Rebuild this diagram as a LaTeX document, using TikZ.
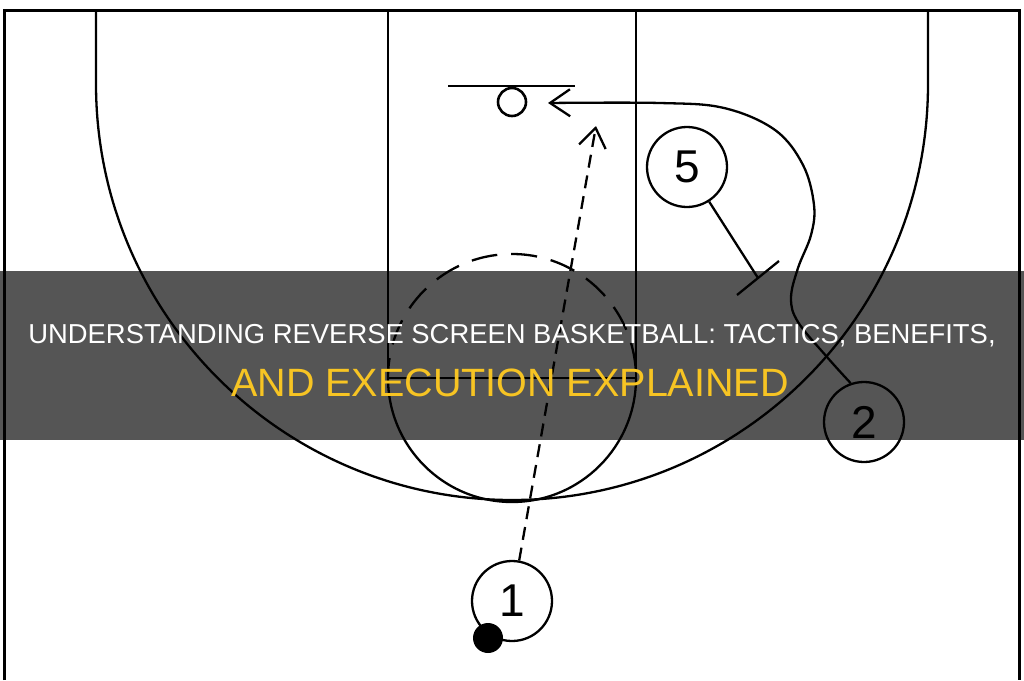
\documentclass[tikz,border=0pt]{standalone}
\usepackage{fontspec}
\setmainfont{Liberation Sans}
\usetikzlibrary{arrows.meta,calc}
\definecolor{titleyellow}{RGB}{247,196,35}
\tikzset{
  courtline/.style={line width=2.3pt, black},
  borderline/.style={line width=3pt, black},
  player/.style={circle, draw, line width=2.3pt, minimum size=80pt, inner sep=0pt,
    font=\fontsize{46}{46}\selectfont},
  cutarrow/.style={line width=2.3pt, -{Straight Barb[length=20pt, width=27pt, line width=2.3pt]}},
  passarrow/.style={line width=2.3pt, dash pattern=on 13pt off 8pt,
    -{Straight Barb[length=19pt, width=27pt, line width=2.3pt]}},
}

\begin{document}
\begin{tikzpicture}[x=1pt, y=-1pt]
  \useasboundingbox (0,0) rectangle (1024,680);
  \fill[white] (0,0) rectangle (1024,680);

  % court
  \draw[borderline] (4.5,680) -- (4.5,10) -- (1019,10) -- (1019,680);
  \draw[courtline] (96,10) -- (96,84) arc[start angle=180, end angle=0, radius=416] -- (928,10);
  \draw[courtline] (388,10) -- (388,378) -- (636,378) -- (636,10);
  \coordinate (ftcenter) at (512,378);
  \draw[courtline] ($(ftcenter)+(124,0)$) arc[start angle=0, end angle=180, radius=124];
  \draw[courtline, dash pattern=on 26pt off 14pt, dash phase=6pt]
    ($(ftcenter)+(-124,0)$) arc[start angle=180, end angle=360, radius=124];

  % basket
  \draw[courtline] (448,86) -- (575,86);
  \coordinate (rim) at (512,102);
  \draw[line width=2.6pt] (rim) circle[radius=14];

  % players
  \node[player] (p1) at (512,601) {1};
  \node[player] (p5) at (687,167) {5};
  \node[player] (p2) at (864,422) {2};
  \fill (488,638) circle[radius=15];

  % screen by 5
  \coordinate (scr) at (758,278);
  \draw[courtline] (p5) -- (scr);
  \draw[courtline] ($(scr)+(-21,17)$) -- ($(scr)+(21,-17)$);

  % cut by 2 and pass from 1
  \coordinate (cutend) at (548,103);
  \coordinate (passend) at (596,126);
  \draw[cutarrow] plot[smooth, tension=0.6] coordinates {(p2.109) (827,357) (798,322) (791,298)
    (798,268) (811,235) (814,205) (803,165) (775,130) (724,108) (660,103) (cutend)};
  \draw[passarrow] (p1) -- (passend);

  % title band
  \fill[black, opacity=0.667] (0,271) rectangle (1024,440);
  \node[text=white, font=\fontsize{27.4}{30}\selectfont, anchor=base, inner sep=0pt] (titleA) at (512,343)
    {UNDERSTANDING REVERSE SCREEN BASKETBALL: TACTICS, BENEFITS,};
  \node[text=titleyellow, font=\fontsize{39.5}{42}\selectfont, anchor=base, inner sep=0pt] (titleB) at (510,396)
    {AND EXECUTION EXPLAINED};
\end{tikzpicture}
\end{document}
